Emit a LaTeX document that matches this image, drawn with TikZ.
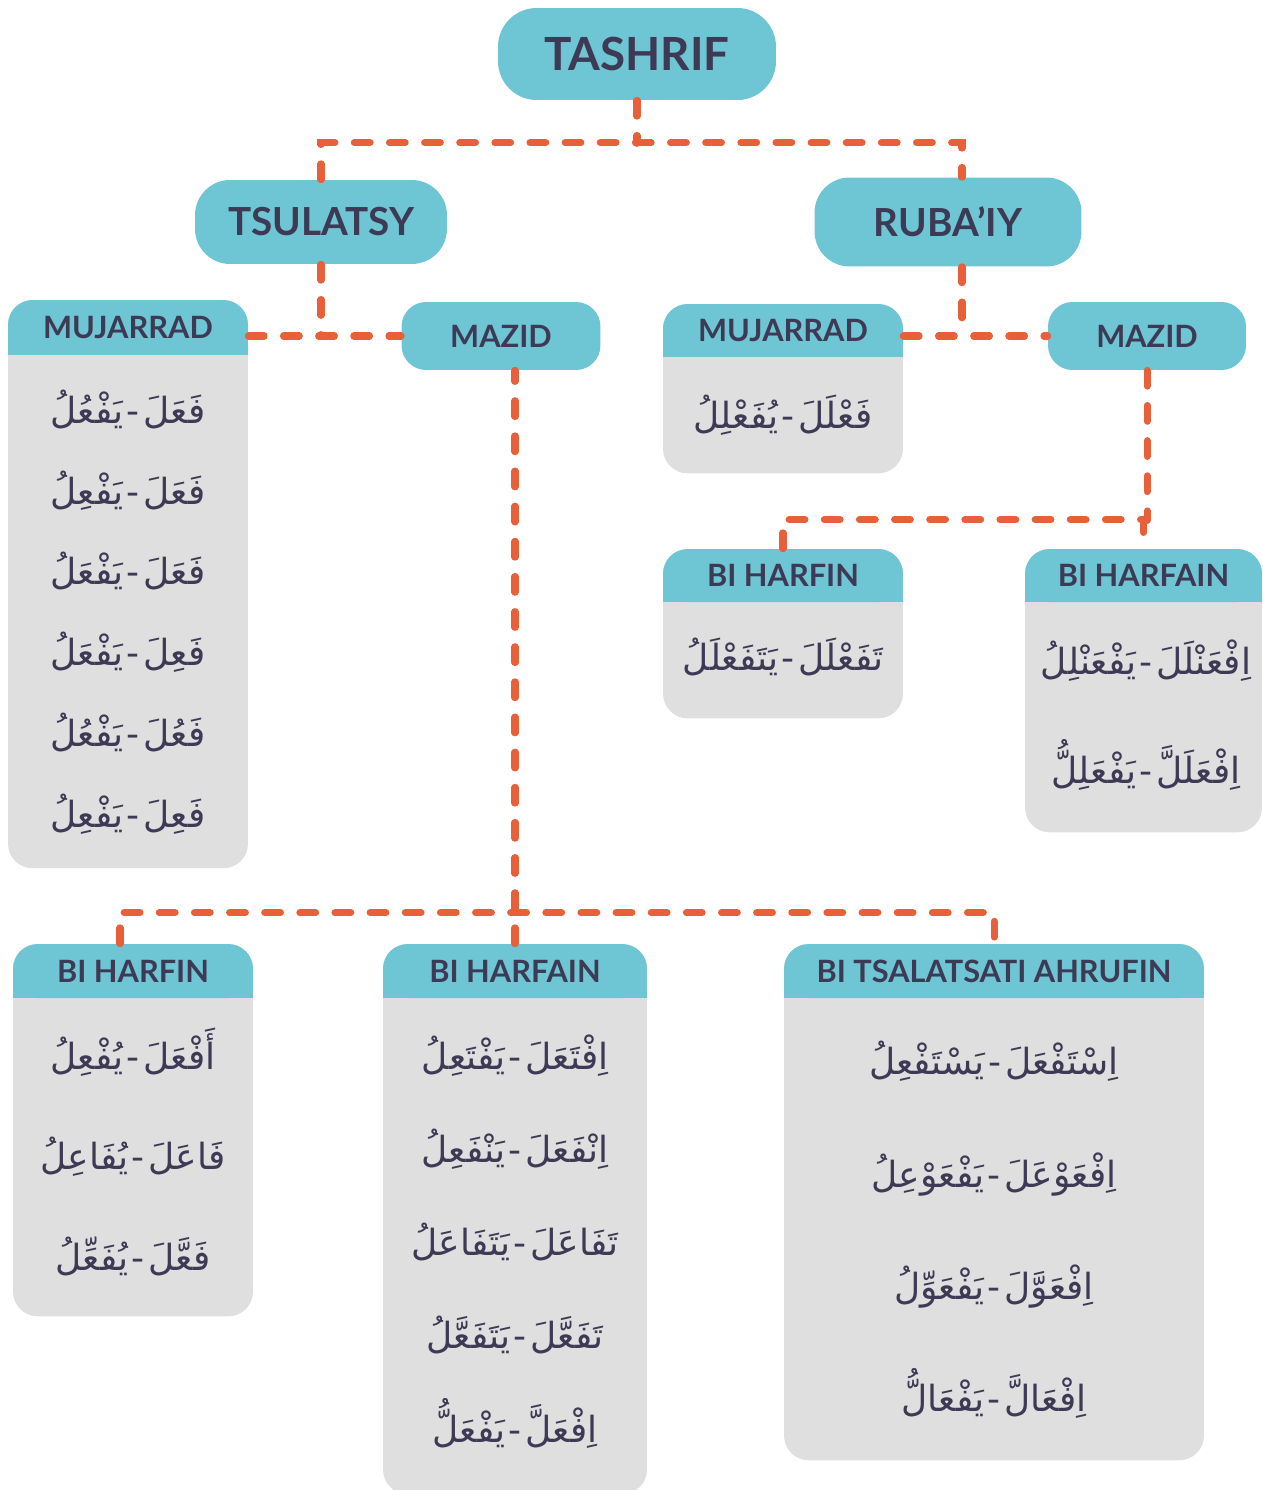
\documentclass[tikz,border=0pt]{standalone}
\usepackage{fontspec}
\setmainfont{Lato}
\newfontfamily\arabicfont[Script=Arabic]{DejaVu Sans}
\TeXXeTstate=1
\definecolor{headteal}{HTML}{6EC5D4}
\definecolor{boxgray}{HTML}{DFDFDF}
\definecolor{linkorange}{HTML}{E8603A}
\definecolor{inkdark}{HTML}{3E3954}

\begin{document}
\begin{tikzpicture}[x=0.02cm, y=-0.02cm,
    panel/.style={fill=boxgray, rounded corners=14pt, anchor=north, inner sep=0pt},
    head/.style={fill=headteal, rounded corners=14pt, text=inkdark, inner sep=0pt,
      font=\bfseries\fontsize{17.5}{20}\selectfont},
    topic/.style={head, rounded corners=20pt, font=\bfseries\fontsize{22}{26}\selectfont},
    link/.style={draw=linkorange, line width=4pt, dash pattern=on 9pt off 11pt, line cap=round},
    arab/.style={text=inkdark, align=center, inner sep=0pt}]
    \useasboundingbox (0,0) rectangle (1263,1490);

    % top levels
    \node[topic, rounded corners=22pt, minimum width=5.56cm, minimum height=1.84cm,
      font=\bfseries\fontsize{26}{30}\selectfont] (tashrif) at (637,54) {TASHRIF};
    \node[topic, minimum width=5.04cm, minimum height=1.68cm] (tsulatsy) at (321,222) {TSULATSY};
    \node[topic, minimum width=5.34cm, minimum height=1.78cm] (rubaiy) at (948,222) {RUBA’IY};

    % tsulatsy mujarrad
    \node[panel, minimum width=4.8cm, minimum height=11.36cm] (lmuj) at (128,300) {};
    \fill[headteal] (8,330) rectangle (248,355);
    \node[head, minimum width=4.8cm, minimum height=1.1cm] (lmujhead) at (128,327.5) {MUJARRAD};
    \node[arab, font=\arabicfont\fontsize{20.5}{46}\selectfont] (lmujtxt) at (128,612) {%
      \beginR فَعَلَ\hspace{2pt}-\hspace{2pt}يَفْعُلُ\endR\\
      \beginR فَعَلَ\hspace{2pt}-\hspace{2pt}يَفْعِلُ\endR\\
      \beginR فَعَلَ\hspace{2pt}-\hspace{2pt}يَفْعَلُ\endR\\
      \beginR فَعِلَ\hspace{2pt}-\hspace{2pt}يَفْعَلُ\endR\\
      \beginR فَعُلَ\hspace{2pt}-\hspace{2pt}يَفْعُلُ\endR\\
      \beginR فَعِلَ\hspace{2pt}-\hspace{2pt}يَفْعِلُ\endR};

    \node[head, minimum width=3.98cm, minimum height=1.36cm] (lmazid) at (501,336) {MAZID};

    % rubaiy mujarrad
    \node[panel, minimum width=4.8cm, minimum height=3.38cm] (rmuj) at (783,304) {};
    \fill[headteal] (663,330) rectangle (903,357);
    \node[head, minimum width=4.8cm, minimum height=1.06cm] (rmujhead) at (783,330.5) {MUJARRAD};
    \node[arab, font=\arabicfont\fontsize{20.5}{46}\selectfont] (rmujtxt) at (783,415) {%
      \beginR فَعْلَلَ\hspace{2pt}-\hspace{2pt}يُفَعْلِلُ\endR};

    \node[head, minimum width=3.96cm, minimum height=1.36cm] (rmazid) at (1147,336) {MAZID};

    % rubaiy mazid
    \node[panel, minimum width=4.8cm, minimum height=3.38cm] (rharfin) at (783,549) {};
    \fill[headteal] (663,575) rectangle (903,602);
    \node[head, minimum width=4.8cm, minimum height=1.06cm] (rharfinhead) at (783,575.5) {BI HARFIN};
    \node[arab, font=\arabicfont\fontsize{20.5}{46}\selectfont] (rharfintxt) at (783,657) {%
      \beginR تَفَعْلَلَ\hspace{2pt}-\hspace{2pt}يَتَفَعْلَلُ\endR};

    \node[panel, minimum width=4.74cm, minimum height=5.66cm] (rharfain) at (1143.5,549) {};
    \fill[headteal] (1025,575) rectangle (1262,602);
    \node[head, minimum width=4.74cm, minimum height=1.06cm] (rharfainhead) at (1143.5,575.5) {BI HARFAIN};
    \node[arab, font=\arabicfont\fontsize{20.5}{62}\selectfont] (rharfaintxt) at (1146,715) {%
      \beginR اِفْعَنْلَلَ\hspace{2pt}-\hspace{2pt}يَفْعَنْلِلُ\endR\\
      \beginR اِفْعَلَلَّ\hspace{2pt}-\hspace{2pt}يَفْعَلِلُّ\endR};

    % tsulatsy mazid
    \node[panel, minimum width=4.8cm, minimum height=7.44cm] (bharfin) at (133,944) {};
    \fill[headteal] (13,970) rectangle (253,998);
    \node[head, minimum width=4.8cm, minimum height=1.08cm] (bharfinhead) at (133,971) {BI HARFIN};
    \node[arab, font=\arabicfont\fontsize{20.5}{57}\selectfont] (bharfintxt) at (133,1152) {%
      \beginR أَفْعَلَ\hspace{2pt}-\hspace{2pt}يُفْعِلُ\endR\\
      \beginR فَاعَلَ\hspace{2pt}-\hspace{2pt}يُفَاعِلُ\endR\\
      \beginR فَعَّلَ\hspace{2pt}-\hspace{2pt}يُفَعِّلُ\endR};

    \node[panel, minimum width=5.28cm, minimum height=11.0cm] (bharfain) at (515,944) {};
    \fill[headteal] (383,970) rectangle (647,998);
    \node[head, minimum width=5.28cm, minimum height=1.08cm] (bharfainhead) at (515,971) {BI HARFAIN};
    \node[arab, font=\arabicfont\fontsize{20.5}{53}\selectfont] (bharfaintxt) at (515,1242) {%
      \beginR اِفْتَعَلَ\hspace{2pt}-\hspace{2pt}يَفْتَعِلُ\endR\\
      \beginR اِنْفَعَلَ\hspace{2pt}-\hspace{2pt}يَنْفَعِلُ\endR\\
      \beginR تَفَاعَلَ\hspace{2pt}-\hspace{2pt}يَتَفَاعَلُ\endR\\
      \beginR تَفَعَّلَ\hspace{2pt}-\hspace{2pt}يَتَفَعَّلُ\endR\\
      \beginR اِفْعَلَّ\hspace{2pt}-\hspace{2pt}يَفْعَلُّ\endR};

    \node[panel, minimum width=8.4cm, minimum height=10.32cm] (btsal) at (994,944) {};
    \fill[headteal] (784,970) rectangle (1204,998);
    \node[head, minimum width=8.4cm, minimum height=1.08cm] (btsalhead) at (994,971) {BI TSALATSATI AHRUFIN};
    \node[arab, font=\arabicfont\fontsize{20.5}{64}\selectfont] (btsaltxt) at (994,1230) {%
      \beginR اِسْتَفْعَلَ\hspace{2pt}-\hspace{2pt}يَسْتَفْعِلُ\endR\\
      \beginR اِفْعَوْعَلَ\hspace{2pt}-\hspace{2pt}يَفْعَوْعِلُ\endR\\
      \beginR اِفْعَوَّلَ\hspace{2pt}-\hspace{2pt}يَفْعَوِّلُ\endR\\
      \beginR اِفْعَالَّ\hspace{2pt}-\hspace{2pt}يَفْعَالُّ\endR};

    % connectors
    \draw[link] (tashrif.south) -- ++(0,43);
    \draw[link] (tsulatsy.north) -- ++(0,-37) -| ([xshift=0.28cm]rubaiy.north);
    \draw[link] (tsulatsy.south) -- (tsulatsy.south |- lmazid.west);
    \draw[link] (lmujhead.east |- lmazid.west) -- (lmazid.west);
    \draw[link] ([xshift=0.28cm]rubaiy.south) -- ([xshift=0.28cm]rubaiy.south |- rmazid.west);
    \draw[link] (rmujhead.east |- rmazid.west) -- (rmazid.west);
    \draw[link] (rmazid.south) -- ++(0,150);
    \draw[link] (rharfinhead.north) -- ++(0,-29) -| (rharfainhead.north);
    \draw[link] (bharfainhead.north) -- (bharfainhead.north |- lmazid.south);
    \draw[link] ([xshift=-0.26cm]bharfinhead.north) -- ++(0,-31) -| (btsalhead.north);
\end{tikzpicture}
\end{document}
